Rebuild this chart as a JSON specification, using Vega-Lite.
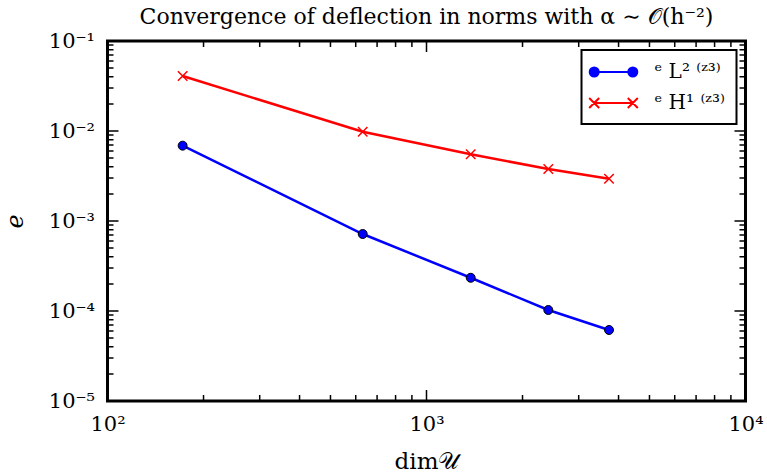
{
  "$schema": "https://vega.github.io/schema/vega-lite/v6.json",
  "width": 638,
  "height": 360,
  "autosize": {"type": "none"},
  "padding": {"left": 107.5, "top": 41, "right": 21.5, "bottom": 72},
  "background": "#ffffff",
  "config": {
    "view": {"stroke": "#000000", "strokeWidth": 3},
    "font": "DejaVu Serif",
    "axis": {
      "domain": false,
      "ticks": false,
      "grid": false,
      "labelColor": "#000000",
      "labelFont": "DejaVu Serif",
      "labelFontSize": 21,
      "labelFlush": false,
      "labelOverlap": false,
      "labelBound": false,
      "titleColor": "#000000",
      "titleFont": "DejaVu Serif",
      "titleFontWeight": "normal"
    }
  },
  "title": {
    "text": "Convergence of deflection in norms with α ∼ 𝒪(h⁻²)",
    "font": "DejaVu Serif",
    "fontSize": 22,
    "fontWeight": "normal",
    "color": "#000000",
    "anchor": "middle",
    "offset": 1
  },
  "datasets": {
    "errors": [
      {"series": "L2", "dim": 172, "err": 0.00687},
      {"series": "L2", "dim": 631, "err": 0.000717},
      {"series": "L2", "dim": 1376, "err": 0.000234},
      {"series": "L2", "dim": 2409, "err": 0.0001026},
      {"series": "L2", "dim": 3734, "err": 0.0000615},
      {"series": "H1", "dim": 172, "err": 0.0408},
      {"series": "H1", "dim": 631, "err": 0.00982},
      {"series": "H1", "dim": 1376, "err": 0.00551},
      {"series": "H1", "dim": 2409, "err": 0.00378},
      {"series": "H1", "dim": 3734, "err": 0.00295}
    ],
    "xticks": [
      {"v": 100, "major": true}, {"v": 200, "major": false}, {"v": 300, "major": false}, {"v": 400, "major": false},
      {"v": 500, "major": false}, {"v": 600, "major": false}, {"v": 700, "major": false}, {"v": 800, "major": false},
      {"v": 900, "major": false}, {"v": 1000, "major": true}, {"v": 2000, "major": false}, {"v": 3000, "major": false},
      {"v": 4000, "major": false}, {"v": 5000, "major": false}, {"v": 6000, "major": false}, {"v": 7000, "major": false},
      {"v": 8000, "major": false}, {"v": 9000, "major": false}, {"v": 10000, "major": true}
    ],
    "yticks": [
      {"v": 0.00001, "major": true}, {"v": 0.00002, "major": false}, {"v": 0.00003, "major": false}, {"v": 0.00004, "major": false},
      {"v": 0.00005, "major": false}, {"v": 0.00006, "major": false}, {"v": 0.00007, "major": false}, {"v": 0.00008, "major": false},
      {"v": 0.00009, "major": false}, {"v": 0.0001, "major": true}, {"v": 0.0002, "major": false}, {"v": 0.0003, "major": false},
      {"v": 0.0004, "major": false}, {"v": 0.0005, "major": false}, {"v": 0.0006, "major": false}, {"v": 0.0007, "major": false},
      {"v": 0.0008, "major": false}, {"v": 0.0009, "major": false}, {"v": 0.001, "major": true}, {"v": 0.002, "major": false},
      {"v": 0.003, "major": false}, {"v": 0.004, "major": false}, {"v": 0.005, "major": false}, {"v": 0.006, "major": false},
      {"v": 0.007, "major": false}, {"v": 0.008, "major": false}, {"v": 0.009, "major": false}, {"v": 0.01, "major": true},
      {"v": 0.02, "major": false}, {"v": 0.03, "major": false}, {"v": 0.04, "major": false}, {"v": 0.05, "major": false},
      {"v": 0.06, "major": false}, {"v": 0.07, "major": false}, {"v": 0.08, "major": false}, {"v": 0.09, "major": false},
      {"v": 0.1, "major": true}
    ]
  },
  "layer": [
    {
      "data": {"name": "xticks"},
      "mark": {"type": "tick", "orient": "vertical", "thickness": 1.5, "color": "#000000", "opacity": 1, "clip": true},
      "encoding": {
        "x": {"field": "v", "type": "quantitative", "scale": {"type": "log", "domain": [100, 10000], "nice": false}, "axis": null},
        "y": {"datum": 0.00001, "type": "quantitative", "scale": {"type": "log", "domain": [0.00001, 0.1], "nice": false}, "axis": null},
        "size": {"condition": {"test": "datum.major", "value": 22}, "value": 12}
      }
    },
    {
      "data": {"name": "xticks"},
      "mark": {"type": "tick", "orient": "vertical", "thickness": 1.5, "color": "#000000", "opacity": 1, "clip": true},
      "encoding": {
        "x": {"field": "v", "type": "quantitative", "scale": {"type": "log", "domain": [100, 10000], "nice": false}, "axis": null},
        "y": {"datum": 0.1, "type": "quantitative", "scale": {"type": "log", "domain": [0.00001, 0.1], "nice": false}, "axis": null},
        "size": {"condition": {"test": "datum.major", "value": 22}, "value": 12}
      }
    },
    {
      "data": {"name": "yticks"},
      "mark": {"type": "tick", "orient": "horizontal", "thickness": 1.5, "color": "#000000", "opacity": 1, "clip": true},
      "encoding": {
        "y": {"field": "v", "type": "quantitative", "scale": {"type": "log", "domain": [0.00001, 0.1], "nice": false}, "axis": null},
        "x": {"datum": 100, "type": "quantitative", "scale": {"type": "log", "domain": [100, 10000], "nice": false}, "axis": null},
        "size": {"condition": {"test": "datum.major", "value": 22}, "value": 12}
      }
    },
    {
      "data": {"name": "yticks"},
      "mark": {"type": "tick", "orient": "horizontal", "thickness": 1.5, "color": "#000000", "opacity": 1, "clip": true},
      "encoding": {
        "y": {"field": "v", "type": "quantitative", "scale": {"type": "log", "domain": [0.00001, 0.1], "nice": false}, "axis": null},
        "x": {"datum": 10000, "type": "quantitative", "scale": {"type": "log", "domain": [100, 10000], "nice": false}, "axis": null},
        "size": {"condition": {"test": "datum.major", "value": 22}, "value": 12}
      }
    },
    {
      "data": {"name": "errors"},
      "mark": {"type": "line", "strokeWidth": 2.5},
      "encoding": {
        "x": {
          "field": "dim", "type": "quantitative",
          "scale": {"type": "log", "domain": [100, 10000], "nice": false},
          "axis": {
            "orient": "bottom",
            "values": [100, 1000, 10000],
            "labelPadding": 12,
            "labelExpr": "datum.value==100?'10²':datum.value==1000?'10³':'10⁴'",
            "title": "dim𝒰",
            "titleFontSize": 23,
            "titleBaseline": "alphabetic",
            "titleY": 67,
            "titleX": 319
          }
        },
        "y": {
          "field": "err", "type": "quantitative",
          "scale": {"type": "log", "domain": [0.00001, 0.1], "nice": false},
          "axis": {
            "orient": "left",
            "values": [0.00001, 0.0001, 0.001, 0.01, 0.1],
            "labelPadding": 13,
            "labelExpr": "datum.value==0.1?'10⁻¹':datum.value==0.01?'10⁻²':datum.value==0.001?'10⁻³':datum.value==0.0001?'10⁻⁴':'10⁻⁵'",
            "title": "e",
            "titleFontSize": 24,
            "titleFontStyle": "italic",
            "titleX": -92,
            "titleY": 180,
            "titleAngle": 270,
            "titleBaseline": "middle",
            "titleAlign": "center"
          }
        },
        "color": {
          "field": "series", "type": "nominal",
          "scale": {"domain": ["L2", "H1"], "range": ["#0000ff", "#ff0000"]},
          "legend": {
            "title": null,
            "orient": "top-right",
            "offset": 9,
            "labelExpr": "datum.value=='L2' ? 'ᵉ L² ⁽ᶻ³⁾' : 'ᵉ H¹ ⁽ᶻ³⁾'",
            "labelFont": "DejaVu Serif",
            "labelFontSize": 20,
            "labelColor": "#000000",
            "strokeColor": "#000000",
            "fillColor": "#ffffff",
            "padding": 11,
            "symbolSize": 400,
            "symbolStrokeWidth": 2,
            "symbolOffset": 10,
            "labelOffset": 30,
            "rowPadding": 10,
            "zindex": 2,
            "encode": {
              "symbols": {
                "update": {
                  "shape": {"signal": "datum.value=='L2' ? 'M-1.93,0L1.93,0M-2.38,0A0.45,0.45 0 1,0 -1.48,0A0.45,0.45 0 1,0 -2.38,0M1.48,0A0.45,0.45 0 1,0 2.38,0A0.45,0.45 0 1,0 1.48,0' : 'M-1.93,0L1.93,0M-2.43,-0.5L-1.43,0.5M-2.43,0.5L-1.43,-0.5M1.43,-0.5L2.43,0.5M1.43,0.5L2.43,-0.5'"},
                  "fill": {"signal": "datum.value=='L2' ? '#0000ff' : 'transparent'"},
                  "strokeWidth": {"value": 2}
                }
              },
              "legend": {"update": {"strokeWidth": {"value": 2}}}
            }
          }
        }
      }
    },
    {
      "data": {"name": "errors"},
      "transform": [{"filter": "datum.series=='L2'"}],
      "mark": {"type": "point", "shape": "circle", "filled": true, "fill": "#0000ff", "stroke": "#000000", "strokeWidth": 1, "size": 80, "opacity": 1},
      "encoding": {
        "x": {"field": "dim", "type": "quantitative", "scale": {"type": "log", "domain": [100, 10000], "nice": false}, "axis": null},
        "y": {"field": "err", "type": "quantitative", "scale": {"type": "log", "domain": [0.00001, 0.1], "nice": false}, "axis": null}
      }
    },
    {
      "data": {"name": "errors"},
      "transform": [{"filter": "datum.series=='H1'"}],
      "mark": {"type": "point", "shape": "M-1,-1L1,1M-1,1L1,-1", "filled": false, "stroke": "#ff0000", "strokeWidth": 1.5, "size": 90, "opacity": 1},
      "encoding": {
        "x": {"field": "dim", "type": "quantitative", "scale": {"type": "log", "domain": [100, 10000], "nice": false}, "axis": null},
        "y": {"field": "err", "type": "quantitative", "scale": {"type": "log", "domain": [0.00001, 0.1], "nice": false}, "axis": null}
      }
    }
  ],
  "resolve": {"axis": {"x": "independent", "y": "independent"}}
}
